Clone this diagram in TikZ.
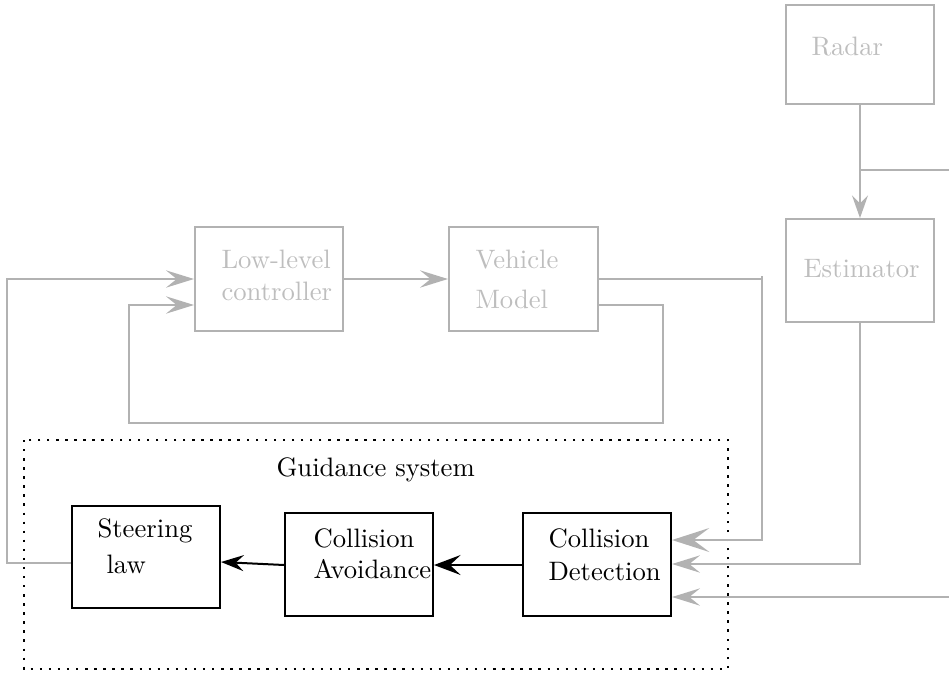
\documentclass[tikz,border=0pt]{standalone}
\usetikzlibrary{arrows.meta}
\definecolor{lgray}{RGB}{178,178,178}
\definecolor{tgray}{RGB}{190,190,190}
\begin{document}
\begin{tikzpicture}[x=0.375pt,y=-0.375pt,
  gbox/.style={draw=lgray,line width=0.75pt,rectangle,inner sep=0pt},
  bbox/.style={draw=black,line width=0.75pt,rectangle,inner sep=0pt},
  gtxt/.style={text=tgray,inner sep=0pt,anchor=base west,font=\normalsize},
  btxt/.style={text=black,inner sep=0pt,anchor=base west,font=\normalsize},
  gline/.style={draw=lgray,line width=0.75pt},
  bline/.style={draw=black,line width=0.75pt},
  frame/.style={line width=0.9pt,dash pattern=on 0.9pt off 2.5pt},
  gtip/.style={-{Stealth[length=10.5pt,width=6.5pt,inset=4pt]}},
  gtipS/.style={-{Stealth[length=8.5pt,width=6pt,inset=3pt]}},
  gtipL/.style={-{Stealth[length=14pt,width=9pt,inset=6pt]}},
  btip/.style={-{Stealth[length=10pt,width=7.5pt,inset=4pt]}},
  btipS/.style={-{Stealth[length=8.5pt,width=6pt,inset=3pt]}}
]
\useasboundingbox (0,0) rectangle (949,674);

% boxes
\node[gbox,minimum width=55.5pt,minimum height=37.1pt] (radar) at (860,54.5) {};
\node[gbox,minimum width=55.5pt,minimum height=38.6pt] (est) at (860,270.5) {};
\node[gbox,minimum width=55.5pt,minimum height=39pt] (llc) at (269,279) {};
\node[gbox,minimum width=55.9pt,minimum height=39pt] (vm) at (523.5,279) {};
\node[bbox,minimum width=55.5pt,minimum height=38.25pt] (sl) at (146,557) {};
\node[bbox,minimum width=55.5pt,minimum height=38.6pt] (ca) at (359,564.5) {};
\node[bbox,minimum width=55.5pt,minimum height=38.6pt] (cd) at (597,564.5) {};

% guidance frame
\draw[frame] (24,440) rectangle (728,669);
\node[btxt] (gs) at (276,476) {Guidance system};

% texts
\node[gtxt] (tradar) at (811,55) {Radar};
\node[gtxt] (test) at (803,277) {Estimator};
\node[gtxt] (tllc1) at (221,268) {Low-level};
\node[gtxt] (tllc2) at (221,300) {controller};
\node[gtxt] (tvm1) at (475,268) {Vehicle};
\node[gtxt] (tvm2) at (475,308) {Model};
\node[btxt] (tsl1) at (97,537) {Steering};
\node[btxt] (tsl2) at (106,573) {law};
\node[btxt] (tca1) at (313,547) {Collision};
\node[btxt] (tca2) at (313,578) {Avoidance};
\node[btxt] (tcd1) at (548,547) {Collision};
\node[btxt] (tcd2) at (548,580) {Detection};

% coordinates
\coordinate (br) at (860,170);
\coordinate (brend) at (949,170);
\coordinate (ext) at (949,597);

% gray connectors
\draw[gline,gtipS] (radar.south) -- (est.north);
\draw[gline] (br) -- (brend);
\draw[gline,gtip] (llc.east) -- (vm.west);
\draw[gline,gtipL] (vm.east) -- (762,279) -- (762,276) -- (762,540) -- (cd.east |- 0,540);
\draw[gline,gtip] (vm.east |- 0,305) -- (663,305) -- (663,423) -- (129,423) -- (129,305) -- (llc.west |- 0,305);
\draw[gline,gtip] (est.south) -- (860,564) -- (cd.east |- 0,564);
\draw[gline,gtip] (ext) -- (cd.east |- ext);
\draw[gline,gtip] (sl.west |- 0,563) -- (7,563) -- (7,279) -- (llc.west);

% black connectors
\draw[bline,btip] (cd.west |- 0,565) -- (ca.east |- 0,565);
\draw[bline,btipS] (ca.west |- 0,565) -- (sl.east |- 0,562);
\end{tikzpicture}
\end{document}
